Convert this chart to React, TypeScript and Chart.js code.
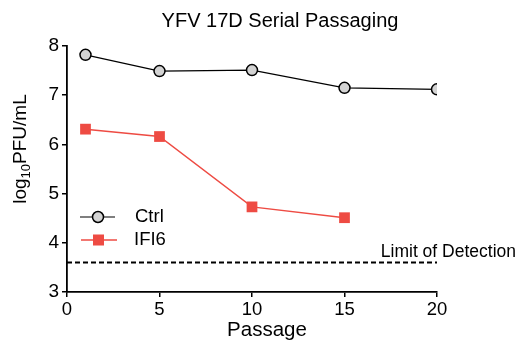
import React, { useEffect, useRef } from "react";
import { Chart, registerables } from "chart.js";

Chart.register(...registerables);

const ctrlPassages = [1, 5, 10, 15, 20];
const ctrlValues = [7.82, 7.49, 7.51, 7.15, 7.12];
const ifi6Passages = [1, 5, 10, 15];
const ifi6Values = [6.31, 6.16, 4.73, 4.51];
const lodPassages = [0, 20];
const lodValue = 3.6;
const seriesNames = ["Ctrl", "IFI6"];
const titleText = "YFV 17D Serial Passaging";
const xTitle = "Passage";
const lodLabel = "Limit of Detection";

const RED = "#ee4b43";
const FONT = "'Liberation Sans', Arial, sans-serif";

export default function App() {
  const ref = useRef<HTMLCanvasElement | null>(null);
  useEffect(() => {
    document.body.style.margin = "0";
    const canvas = ref.current!;
    const overlay = {
      id: "overlay",
      afterDraw(chart: any) {
        const ctx = chart.ctx;
        const ys = chart.scales.y;
        ctx.save();
        // Title
        ctx.fillStyle = "#000";
        ctx.font = `20px ${FONT}`;
        ctx.textAlign = "center";
        ctx.textBaseline = "alphabetic";
        ctx.fillText(titleText, 280, 27);
        // X title
        ctx.font = `20.5px ${FONT}`;
        ctx.fillText(xTitle, 267, 336);
        // Y title with subscript
        ctx.translate(19, 149);
        ctx.rotate(-Math.PI / 2);
        const parts = [
          { t: "log", s: 19, dy: 0 },
          { t: "10", s: 13, dy: 4 },
          { t: "PFU/mL", s: 19, dy: 0 },
        ];
        let total = 0;
        for (const p of parts) {
          ctx.font = `${p.s}px ${FONT}`;
          total += ctx.measureText(p.t).width;
        }
        let cx = -total / 2;
        ctx.textAlign = "left";
        ctx.textBaseline = "alphabetic";
        for (const p of parts) {
          ctx.font = `${p.s}px ${FONT}`;
          ctx.fillText(p.t, cx, 7 + p.dy);
          cx += ctx.measureText(p.t).width;
        }
        ctx.setTransform(1, 0, 0, 1, 0, 0);
        // LOD label
        ctx.font = `17.5px ${FONT}`;
        ctx.textAlign = "right";
        ctx.textBaseline = "alphabetic";
        ctx.fillText(lodLabel, 516, ys.getPixelForValue(lodValue) - 5);
        // Legend
        const ly1 = 217;
        const ly2 = 240;
        ctx.strokeStyle = "#000";
        ctx.lineWidth = 1.2;
        ctx.beginPath();
        ctx.moveTo(80, ly1);
        ctx.lineTo(115, ly1);
        ctx.stroke();
        ctx.beginPath();
        ctx.arc(98, ly1, 5.5, 0, Math.PI * 2);
        ctx.fillStyle = "#d3d3d3";
        ctx.fill();
        ctx.lineWidth = 1.5;
        ctx.stroke();
        ctx.strokeStyle = RED;
        ctx.lineWidth = 1.5;
        ctx.beginPath();
        ctx.moveTo(81, ly2);
        ctx.lineTo(117, ly2);
        ctx.stroke();
        ctx.fillStyle = RED;
        ctx.fillRect(93, ly2 - 5.5, 11, 11);
        ctx.fillStyle = "#000";
        ctx.font = `18.5px ${FONT}`;
        ctx.textAlign = "left";
        ctx.textBaseline = "middle";
        ctx.fillText(seriesNames[0], 135, ly1);
        ctx.fillText(seriesNames[1], 134, ly2);
        ctx.restore();
      },
    };
    const chart = new Chart(canvas, {
      type: "line",
      data: {
        datasets: [
          {
            label: "LOD",
            data: lodPassages.map((x) => ({ x, y: lodValue })),
            borderColor: "#000",
            borderWidth: 2,
            borderDash: [5, 3],
            pointRadius: 0,
          },
          {
            label: seriesNames[1],
            data: ifi6Passages.map((x, i) => ({ x, y: ifi6Values[i] })),
            borderColor: RED,
            backgroundColor: RED,
            borderWidth: 1.5,
            pointStyle: "rect",
            pointRadius: 7.6,
            pointBorderWidth: 0,
          },
          {
            label: seriesNames[0],
            data: ctrlPassages.map((x, i) => ({ x, y: ctrlValues[i] })),
            borderColor: "#000",
            backgroundColor: "#d3d3d3",
            borderWidth: 1.2,
            pointStyle: "circle",
            pointRadius: 5.5,
            pointBorderColor: "#000",
            pointBorderWidth: 1.5,
          },
        ],
      },
      options: {
        animation: false,
        responsive: false,
        layout: { padding: { left: 0, right: 82, top: 46, bottom: 0 } },
        plugins: { legend: { display: false }, title: { display: false }, tooltip: { enabled: false } },
        scales: {
          x: {
            type: "linear",
            min: 0,
            max: 20,
            ticks: { stepSize: 5, color: "#000", font: { size: 18.5, family: FONT }, padding: 2, maxRotation: 0 },
            grid: { drawOnChartArea: false, tickLength: 5, color: "#000", lineWidth: 1.5 },
            border: { display: true, color: "#000", width: 1.8 },
            afterFit: (s: any) => { s.height = 55; },
          },
          y: {
            min: 3,
            max: 8,
            ticks: { stepSize: 1, color: "#000", font: { size: 19, family: FONT }, padding: 3 },
            grid: { drawOnChartArea: false, tickLength: 5, color: "#000", lineWidth: 1.5 },
            border: { display: true, color: "#000", width: 1.8 },
            afterFit: (s: any) => { s.width = 67; },
          },
        },
      },
      plugins: [overlay],
    });
    return () => chart.destroy();
  }, []);
  return (
    <div style={{ width: 519, height: 347 }}>
      <canvas ref={ref} width={519} height={347} style={{ display: "block" }} />
    </div>
  );
}
